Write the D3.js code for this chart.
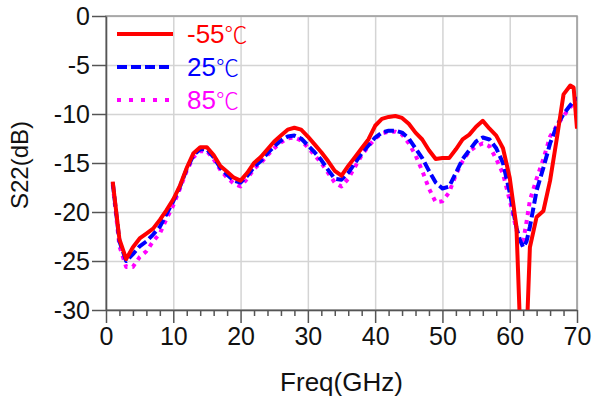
<!DOCTYPE html>
<html>
<head>
<meta charset="utf-8">
<script src="https://cdn.jsdelivr.net/npm/d3@7"></script>
<style>
  body { margin: 0; background: #fff; }
  svg text { font-family: "Liberation Sans", Arial, sans-serif; }
</style>
</head>
<body>
<div id="chart"></div>
<script>
// Frequency grid (GHz)
const freqs = [1, 2, 3, 4, 5, 6, 7, 8, 9, 10, 11, 12, 13, 14, 15, 16, 17, 18, 19, 20,
  21, 22, 23, 24, 25, 26, 27, 28, 29, 30, 31, 32, 33, 34, 35, 36, 37, 38, 39, 40,
  41, 42, 43, 44, 45, 46, 47, 48, 49, 50, 51, 52, 53, 54, 55, 56, 57, 58, 59, 60,
  61, 61.5, 62, 62.5, 63, 64, 65, 66, 67, 68, 69, 69.5, 70];

// S22 (dB) at -55C
const s22Cold = [-16.9, -22.8, -24.8, -23.6, -22.7, -22.2, -21.7, -20.8, -19.8, -18.7,
  -17.3, -15.5, -14.0, -13.4, -13.4, -14.2, -15.3, -15.9, -16.5, -16.8,
  -16.0, -15.0, -14.4, -13.6, -12.8, -12.2, -11.6, -11.4, -11.6, -12.3,
  -13.1, -13.9, -14.8, -15.8, -16.3, -15.3, -14.4, -13.5, -12.6, -11.2,
  -10.5, -10.3, -10.2, -10.4, -11.0, -11.9, -12.6, -13.7, -14.6, -14.5,
  -14.5, -13.6, -12.6, -12.1, -11.3, -10.7, -11.5, -12.2, -13.5, -16.5,
  -21.5, -31.0, -38.0, -33.0, -23.6, -20.5, -19.9, -16.8, -12.5, -8.0, -7.1, -7.3, -11.5];

// S22 (dB) at 25C
const s22Room = [-17.0, -23.0, -25.0, -24.3, -23.5, -23.0, -22.3, -21.5, -20.2, -18.9,
  -17.4, -15.6, -14.2, -13.6, -13.6, -14.4, -15.5, -16.2, -16.8, -17.0,
  -16.3, -15.4, -14.8, -14.0, -13.3, -12.7, -12.3, -12.2, -12.5, -13.2,
  -13.9, -14.7, -15.7, -16.6, -16.7, -16.0, -15.0, -14.0, -13.2, -12.4,
  -11.9, -11.7, -11.7, -11.9, -12.5, -13.5, -14.5, -15.8, -17.0, -17.6,
  -17.4, -16.0, -14.6, -13.7, -12.8, -12.4, -12.6, -13.5, -15.0, -18.0,
  -21.6, -22.8, -23.6, -23.0, -21.5, -17.8, -15.5, -13.0, -11.2, -10.0, -9.1, -8.7, -8.3];

// S22 (dB) at 85C
const s22Hot = [-17.2, -23.5, -25.6, -25.6, -24.6, -24.0, -23.0, -22.2, -20.7, -19.3,
  -17.6, -15.8, -14.4, -13.8, -13.8, -14.6, -15.7, -16.5, -17.1, -17.4,
  -16.6, -15.6, -15.0, -14.2, -13.5, -12.9, -12.5, -12.4, -12.7, -13.4,
  -14.2, -15.0, -16.0, -17.0, -17.4, -16.6, -15.4, -14.2, -13.3, -12.5,
  -12.0, -11.8, -11.8, -12.1, -13.0, -14.2, -15.8, -17.6, -19.0, -18.9,
  -18.0, -16.2, -14.8, -13.8, -13.3, -13.0, -13.3, -14.6, -16.1, -18.8,
  -21.8, -23.2, -23.0, -21.0, -18.8, -16.6, -14.6, -12.3, -11.2, -10.2, -9.3, -8.9, -8.4];

const legendValues = ["-55", "25", "85"];
const xTicks = [0, 10, 20, 30, 40, 50, 60, 70];
const xMinorTicks = [2, 4, 6, 8, 12, 14, 16, 18, 22, 24, 26, 28, 32, 34, 36, 38,
  42, 44, 46, 48, 52, 54, 56, 58, 62, 64, 66, 68];
const yTicks = [0, -5, -10, -15, -20, -25, -30];

const W = 596, H = 403;
const margin = {top: 16, right: 19, bottom: 93, left: 106};
const w = W - margin.left - margin.right;
const h = H - margin.top - margin.bottom;

const svg = d3.select("#chart").append("svg")
  .attr("width", W)
  .attr("height", H);

const g = svg.append("g")
  .attr("transform", `translate(${margin.left},${margin.top})`);

const x = d3.scaleLinear().domain([0, 70]).range([0, w]);
const y = d3.scaleLinear().domain([-30, 0]).range([h, 0]);

// plain hyphen for negatives, like the original
const fmt = d => String(d);

// grid
g.append("g")
  .attr("transform", `translate(0,${h})`)
  .call(d3.axisBottom(x).tickValues(xTicks).tickSize(-h).tickFormat(""))
  .call(a => a.select(".domain").remove())
  .selectAll("line").attr("stroke", "#d4d4d4").attr("stroke-width", 1.5);

g.append("g")
  .call(d3.axisLeft(y).tickValues(yTicks).tickSize(-w).tickFormat(""))
  .call(a => a.select(".domain").remove())
  .selectAll("line").attr("stroke", "#d4d4d4").attr("stroke-width", 1.5);

// frame
g.append("rect")
  .attr("width", w)
  .attr("height", h)
  .attr("fill", "none")
  .attr("stroke", "#999")
  .attr("stroke-width", 1.5);

// curves
g.append("clipPath").attr("id", "clip")
  .append("rect").attr("width", w).attr("height", h);

const series = [
  {vals: s22Hot, color: "#ff00ff", dash: "4,5"},
  {vals: s22Room, color: "#0000ff", dash: "10,4"},
  {vals: s22Cold, color: "#ff0000", dash: null}
];

const line = d3.line()
  .x((d, i) => x(freqs[i]))
  .y(d => y(d));

const curves = g.append("g").attr("clip-path", "url(#clip)");
series.forEach(s => {
  curves.append("path")
    .datum(s.vals)
    .attr("fill", "none")
    .attr("stroke", s.color)
    .attr("stroke-width", 4)
    .attr("stroke-linejoin", "round")
    .attr("stroke-dasharray", s.dash)
    .attr("d", line);
});

// axes
const axisColor = "#555";

const yAxis = g.append("g")
  .call(d3.axisLeft(y).tickValues(yTicks).tickFormat(fmt).tickSize(14).tickSizeOuter(0).tickPadding(2));
yAxis.selectAll("line").attr("stroke", axisColor).attr("stroke-width", 1.5);
yAxis.select(".domain").attr("stroke", axisColor).attr("stroke-width", 1.5);
yAxis.selectAll("text").attr("font-size", 25).attr("fill", "#111");

const xMinor = g.append("g")
  .attr("transform", `translate(0,${h})`)
  .call(d3.axisBottom(x).tickValues(xMinorTicks).tickSize(6).tickSizeOuter(0).tickFormat(""));
xMinor.select(".domain").remove();
xMinor.selectAll("line").attr("stroke", axisColor).attr("stroke-width", 1.5);

const xAxis = g.append("g")
  .attr("transform", `translate(0,${h})`)
  .call(d3.axisBottom(x).tickValues(xTicks).tickFormat(fmt).tickSize(13).tickSizeOuter(0).tickPadding(4));
xAxis.selectAll("line").attr("stroke", axisColor).attr("stroke-width", 1.5);
xAxis.select(".domain").attr("stroke", axisColor).attr("stroke-width", 1.5);
xAxis.selectAll("text").attr("font-size", 25).attr("fill", "#111");

// axis titles
svg.append("text")
  .attr("x", margin.left + w / 2)
  .attr("y", 391)
  .attr("text-anchor", "middle")
  .attr("font-size", 26)
  .attr("fill", "#111")
  .text("Freq(GHz)");

svg.append("text")
  .attr("transform", `translate(28,${margin.top + h / 2 + 2}) rotate(-90)`)
  .attr("text-anchor", "middle")
  .attr("font-size", 24)
  .attr("fill", "#111")
  .text("S22(dB)");

// legend
const legendColors = ["#ff0000", "#0000ff", "#ff00ff"];
const legendDash = [null, "10,4", "4,8"];
const legend = svg.append("g");
legendValues.forEach((v, i) => {
  const ly = 34 + i * 33;
  legend.append("line")
    .attr("x1", 117).attr("x2", 173)
    .attr("y1", ly).attr("y2", ly)
    .attr("stroke", legendColors[i])
    .attr("stroke-width", 4)
    .attr("stroke-dasharray", legendDash[i]);
  const t = legend.append("text")
    .attr("x", 187)
    .attr("y", ly + 9)
    .attr("font-size", 26)
    .attr("fill", legendColors[i]);
  t.append("tspan").text(v);
  t.append("tspan")
    .attr("font-family", "'Noto Sans CJK SC'")
    .attr("font-weight", 300)
    .attr("font-size", 23)
    .text("℃");
});
</script>
</body>
</html>
